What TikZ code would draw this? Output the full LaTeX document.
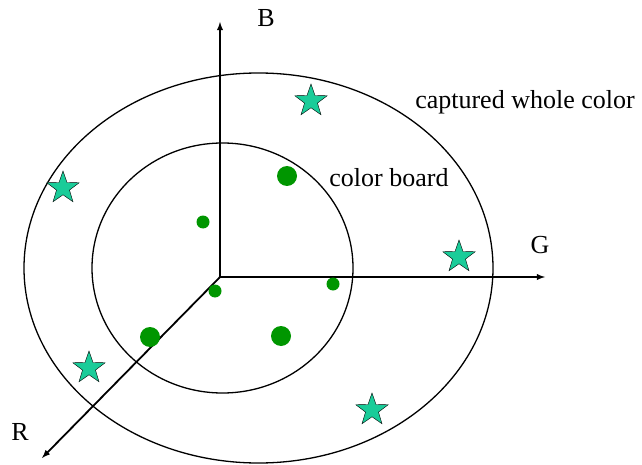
\documentclass[tikz,border=0pt]{standalone}
\usepackage{fontspec}
\setmainfont{Liberation Serif}
\usetikzlibrary{shapes.geometric}
\definecolor{starcol}{RGB}{26,204,153}
\definecolor{dotcol}{RGB}{0,150,0}
\tikzset{
    wholestar/.style={star, star points=5, star point ratio=2.5, draw=black, fill=starcol, minimum size=34pt, inner sep=0pt},
    bigdot/.style={circle, fill=dotcol, minimum size=20pt, inner sep=0pt},
    smalldot/.style={circle, fill=dotcol, minimum size=13pt, inner sep=0pt},
    lbl/.style={font=\fontsize{26}{30}\selectfont}
}
\begin{document}
\begin{tikzpicture}[x=1pt, y=-1pt]
    \useasboundingbox (0,0) rectangle (642,465);
    % Axes
    \coordinate (O) at (220,277);
    \coordinate (Bend) at (220,22);
    \coordinate (Gend) at (545,277);
    \coordinate (Rend) at (42,458);
    \draw[line width=1.8pt, -latex] (O) -- (Bend);
    \draw[line width=1.8pt, -latex] (O) -- (Gend);
    \draw[line width=1.8pt, -latex] (O) -- (Rend);
    \node[lbl] (B) at (266,18) {B};
    \node[lbl] (G) at (540,245) {G};
    \node[lbl] (R) at (20,432) {R};
    % Color regions
    \draw[line width=1.3pt] (258.5,268) ellipse [x radius=234.5, y radius=195];
    \draw[line width=1.3pt] (222.5,268) ellipse [x radius=130.5, y radius=125];
    \node[lbl] (whole) at (525,102) {captured whole color};
    \node[lbl] (board) at (389,178) {color board};
    % Captured colors
    \foreach \x/\y [count=\i] in {311/101, 63/188, 459/257, 89/368, 372/410}{
        \node[wholestar] (s\i) at (\x,\y) {};
    }
    % Board colors
    \foreach \x/\y [count=\i] in {287/176, 150/337, 281/336}{
        \node[bigdot] (d\i) at (\x,\y) {};
    }
    \foreach \x/\y [count=\i] in {203/222, 215/291, 333/284}{
        \node[smalldot] (e\i) at (\x,\y) {};
    }
\end{tikzpicture}
\end{document}
